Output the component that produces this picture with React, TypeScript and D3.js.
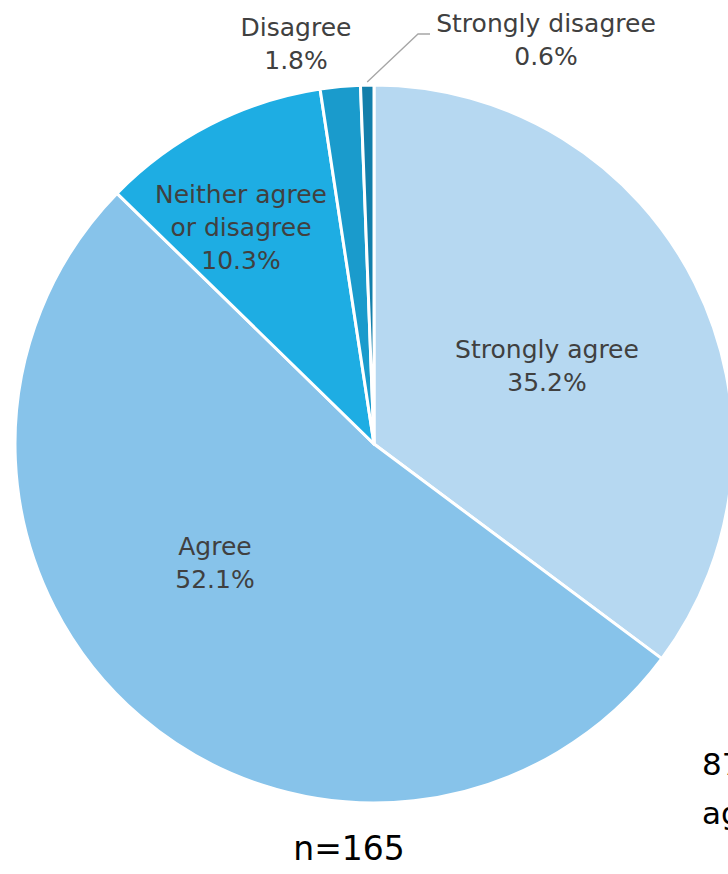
import React, { useEffect, useRef } from 'react';
import * as d3 from 'd3';

const categories = ['Strongly agree', 'Agree', 'Neither agree or disagree', 'Disagree', 'Strongly disagree'];
const shares = [35.2, 52.1, 10.3, 1.8, 0.6];
const labelLines = [
  ['Strongly agree', '35.2%'],
  ['Agree', '52.1%'],
  ['Neither agree', 'or disagree', '10.3%'],
  ['Disagree', '1.8%'],
  ['Strongly disagree', '0.6%'],
];
const colors = ['#B6D8F1', '#87C3EA', '#1EADE3', '#1A9BCC', '#137FAB'];
const sampleNote = 'n=165';
const sideNote = ['87%', 'agree'];

// where Excel put each label (centre x, first baseline), in page px
const labelAnchors: [number, number][] = [
  [547, 358],
  [215, 555],
  [241, 203],
  [296, 36],
  [546, 32],
];

const App: React.FC = () => {
  const svgRef = useRef<SVGSVGElement>(null);

  useEffect(() => {
    if (!svgRef.current) return;
    const width = 728;
    const height = 874;
    const cx = 374;
    const cy = 444;
    const radius = 359;

    const svg = d3.select(svgRef.current);
    svg.selectAll('*').remove();
    svg.attr('width', width).attr('height', height);

    const data = categories.map((c, i) => ({ name: c, value: shares[i], idx: i }));

    const pie = d3.pie<any>()
      .sort(null)
      .value(d => d.value)
      .startAngle(0)
      .endAngle(2 * Math.PI);

    const arc = d3.arc<any>().innerRadius(0).outerRadius(radius);

    const g = svg.append('g').attr('transform', `translate(${cx},${cy})`);

    const arcs = pie(data);

    g.selectAll('path')
      .data(arcs)
      .join('path')
      .attr('d', arc)
      .attr('fill', d => colors[d.data.idx])
      .attr('stroke', '#ffffff')
      .attr('stroke-width', 3)
      .attr('stroke-linejoin', 'round');

    // leader line for the smallest slice
    const last = arcs[arcs.length - 1];
    const mid = (last.startAngle + last.endAngle) / 2;
    const px = cx + Math.sin(mid) * (radius + 3);
    const py = cy - Math.cos(mid) * (radius + 3);
    svg.append('polyline')
      .attr('points', `${px},${py} ${418},${34} ${430},${34}`)
      .attr('fill', 'none')
      .attr('stroke', '#A6A6A6')
      .attr('stroke-width', 1.3);

    const lineGap = 33;
    labelLines.forEach((lines, i) => {
      const [lx, ly] = labelAnchors[i];
      const t = svg.append('text')
        .attr('text-anchor', 'middle')
        .attr('font-family', 'DejaVu Sans, sans-serif')
        .attr('font-size', 25)
        .attr('fill', '#404040');
      lines.forEach((line, j) => {
        t.append('tspan')
          .attr('x', lx)
          .attr('y', ly + j * lineGap)
          .text(line);
      });
    });

    svg.append('text')
      .attr('x', 349)
      .attr('y', 860)
      .attr('text-anchor', 'middle')
      .attr('font-family', 'DejaVu Sans, sans-serif')
      .attr('font-size', 33)
      .attr('fill', '#000000')
      .text(sampleNote);

    sideNote.forEach((line, j) => {
      svg.append('text')
        .attr('x', 702)
        .attr('y', 775 + j * 49)
        .attr('font-family', 'DejaVu Sans, sans-serif')
        .attr('font-size', 31)
        .attr('fill', '#000000')
        .text(line);
    });
  }, []);

  return (
    <div style={{ position: 'absolute', left: 0, top: 0, width: 728, height: 874, overflow: 'hidden', background: '#fff' }}>
      <svg ref={svgRef} style={{ display: 'block' }}></svg>
    </div>
  );
};

export default App;
